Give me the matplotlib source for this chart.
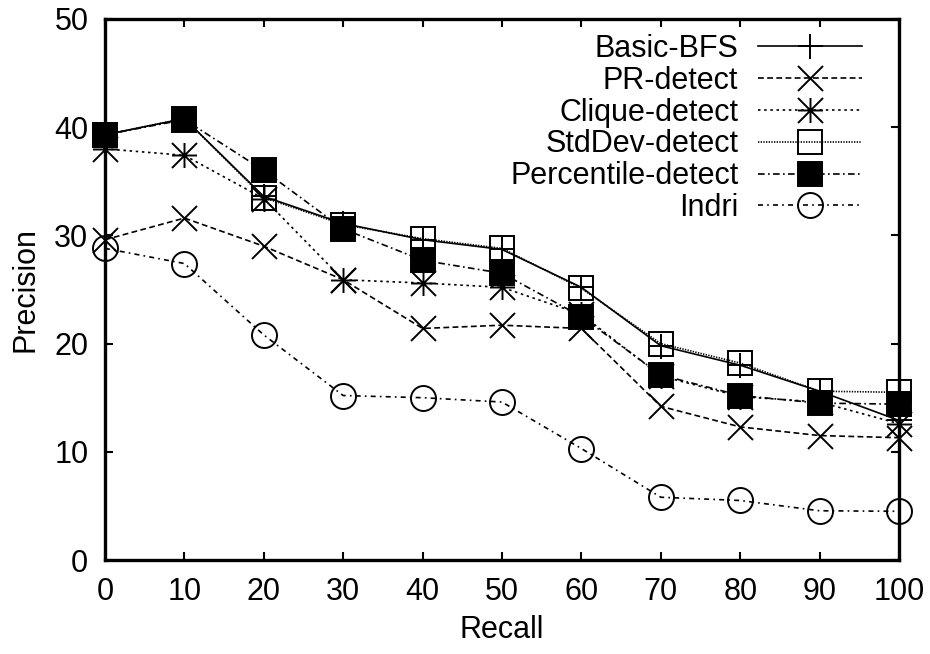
import matplotlib
matplotlib.use("Agg")
import matplotlib.pyplot as plt
from matplotlib.path import Path

plt.rcParams['font.family'] = ['Liberation Sans', 'DejaVu Sans']
plt.rcParams['font.size'] = 22

recall = [0, 10, 20, 30, 40, 50, 60, 70, 80, 90, 100]
basic_bfs = [39.3, 40.8, 33.6, 31.1, 29.6, 28.7, 25.2, 19.8, 18.0, 15.6, 12.9]
pr_detect = [29.6, 31.6, 29.0, 25.9, 21.4, 21.7, 21.4, 14.2, 12.3, 11.5, 11.3]
clique_detect = [38.0, 37.4, 33.4, 25.9, 25.6, 25.2, 22.7, 17.0, 15.1, 14.6, 12.6]
stddev_detect = [39.3, 40.8, 33.5, 31.0, 29.7, 28.8, 25.1, 20.0, 18.2, 15.6, 15.5]
percentile_detect = [39.3, 40.7, 36.0, 30.6, 27.7, 26.5, 22.5, 17.1, 15.2, 14.5, 14.4]
indri = [28.8, 27.4, 20.8, 15.2, 15.0, 14.6, 10.3, 5.8, 5.5, 4.55, 4.5]

series_labels = ["Basic-BFS", "PR-detect", "Clique-detect", "StdDev-detect",
                 "Percentile-detect", "Indri"]
xticks = [0, 10, 20, 30, 40, 50, 60, 70, 80, 90, 100]
yticks = [0, 10, 20, 30, 40, 50]

# gnuplot-like asterisk: plus + diagonal cross
ast = Path([(-1, 0), (1, 0), (0, -1), (0, 1), (-1, -1), (1, 1), (-1, 1), (1, -1)],
           [Path.MOVETO, Path.LINETO] * 4)

fig = plt.figure(figsize=(9.3, 6.54), dpi=100)
ax = fig.add_axes([105/930, 94/654, 794/930, 541/654])

lw = 1.2
mew = 1.4
styles = [
    dict(ls='-', marker='+', ms=18, mfc='none'),
    dict(ls=(0, (3.5, 2)), marker='x', ms=18, mfc='none'),
    dict(ls=(0, (1.5, 2.2)), marker=ast, ms=18, mfc='none'),
    dict(ls=(0, (0.8, 0.8)), marker='s', ms=17, mfc='none'),
    dict(ls=(0, (4, 2, 1, 2)), marker='s', ms=17, mfc='black'),
    dict(ls=(0, (3, 2.5, 1, 2.5)), marker='o', ms=18, mfc='none'),
]
data = [basic_bfs, pr_detect, clique_detect, stddev_detect, percentile_detect, indri]
for vals, lab, st in zip(data, series_labels, styles):
    ax.plot(recall, vals, color='black', lw=lw, mew=mew, mec='black',
            label=lab, clip_on=False, **st)

ax.set_xlim(0, 100)
ax.set_ylim(0, 50)
ax.set_xticks(xticks)
ax.set_yticks(yticks)
ax.tick_params(direction='in', length=6, width=1.5, top=True, right=True,
               labelsize=22)
ax.tick_params(axis='y', pad=12)
ax.tick_params(axis='x', pad=12)
for sp in ax.spines.values():
    sp.set_linewidth(2.4)
ax.set_xlabel("Recall", fontsize=22, labelpad=6)
ax.set_ylabel("Precision", fontsize=22, labelpad=10)

leg = ax.legend(loc='upper right', bbox_to_anchor=(862/930, 1 - 34/654),
                bbox_transform=fig.transFigure, frameon=False, markerfirst=False,
                numpoints=1, handlelength=3.4, handletextpad=0.65,
                labelspacing=0.06, borderpad=0, borderaxespad=0, fontsize=22)

fig.savefig("out.png", dpi=100)
